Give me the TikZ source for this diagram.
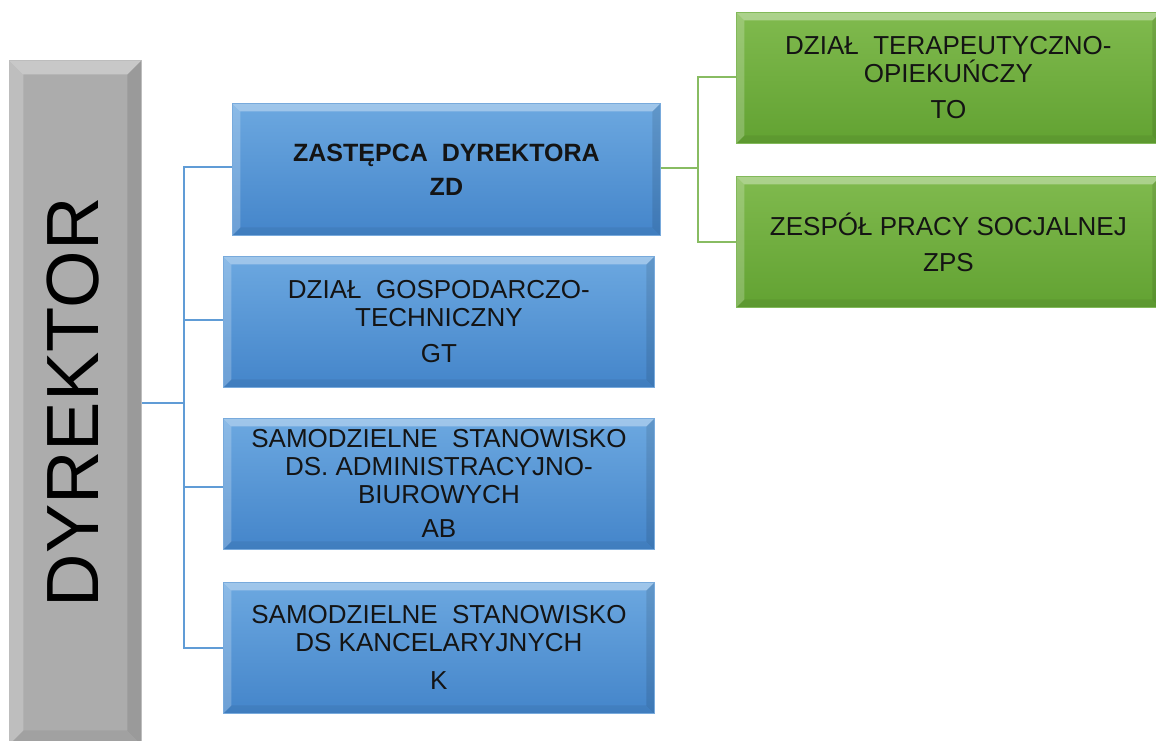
\documentclass[tikz,border=0pt]{standalone}
\usepackage{fontspec}
\setmainfont{Liberation Sans}
\definecolor{bluetop}{RGB}{108,168,224}
\definecolor{bluebot}{RGB}{68,133,202}
\definecolor{blueedge}{RGB}{120,170,220}
\definecolor{greentop}{RGB}{128,186,78}
\definecolor{greenbot}{RGB}{98,162,50}
\definecolor{greenedge}{RGB}{130,185,90}
\definecolor{graybox}{RGB}{172,172,172}
\definecolor{blueline}{RGB}{96,156,214}
\definecolor{greenline}{RGB}{136,188,98}
\definecolor{txt}{RGB}{20,20,20}
\tikzset{
  bevel/.style={path picture={
    \path (path picture bounding box.north west) coordinate (pnw)
          (path picture bounding box.north east) coordinate (pne)
          (path picture bounding box.south west) coordinate (psw)
          (path picture bounding box.south east) coordinate (pse);
    \fill[white,opacity=.35] (pnw) -- (pne) -- ([xshift=-#1,yshift=-#1]pne) -- ([xshift=#1,yshift=-#1]pnw) -- cycle;
    \fill[white,opacity=.22] (pnw) -- ([xshift=#1,yshift=-#1]pnw) -- ([xshift=#1,yshift=#1]psw) -- (psw) -- cycle;
    \fill[black,opacity=.10] (pne) -- ([xshift=-#1,yshift=-#1]pne) -- ([xshift=-#1,yshift=#1]pse) -- (pse) -- cycle;
    \fill[black,opacity=.06] (psw) -- ([xshift=#1,yshift=#1]psw) -- ([xshift=-#1,yshift=#1]pse) -- (pse) -- cycle;
  }},
  unitbox/.style={rectangle, anchor=north west, inner sep=0pt, align=center,
    text=txt, font=\fontsize{26}{28}\selectfont, bevel=8pt},
  bluebox/.style={unitbox, top color=bluetop, bottom color=bluebot, draw=blueedge, line width=0.8pt},
  greenbox/.style={unitbox, top color=greentop, bottom color=greenbot, draw=greenedge, line width=0.8pt},
  graybox/.style={rectangle, anchor=north west, inner sep=0pt, fill=graybox, draw=graybox!80!white, line width=0.8pt, bevel=14pt},
  blueconn/.style={draw=blueline, line width=2pt},
  greenconn/.style={draw=greenline, line width=2.5pt},
}
\begin{document}
\begin{tikzpicture}[x=1pt,y=-1pt]
\useasboundingbox (0,0) rectangle (1156,740);
\fill[white] (0,0) rectangle (1156,740);

% director
\node[graybox, minimum width=132pt, minimum height=684pt] (dyr) at (9,60) {};
\node[rotate=90, text=black, font=\fontsize{74}{74}\selectfont] (dyrtext) at ([xshift=-2pt]dyr.center) {DYREKTOR};

% blue boxes
\node[bluebox, minimum width=428pt, minimum height=132pt, font=\fontsize{25}{28}\selectfont] (zd) at (232,103)
  {\textbf{ZASTĘPCA\ \ DYREKTORA}\\[6pt]\textbf{ZD}};
\node[bluebox, minimum width=431pt, minimum height=131pt] (gt) at (223,256)
  {DZIAŁ\ \ GOSPODARCZO-\\TECHNICZNY\\[8pt]GT};
\node[bluebox, minimum width=431pt, minimum height=131pt] (ab) at (223,418)
  {SAMODZIELNE\ \ STANOWISKO\\DS. ADMINISTRACYJNO-\\BIUROWYCH\\[6pt]AB};
\node[bluebox, minimum width=431pt, minimum height=131pt] (k) at (223,582)
  {SAMODZIELNE\ \ STANOWISKO\\DS KANCELARYJNYCH\\[10pt]K};

% green boxes
\node[greenbox, minimum width=424pt, minimum height=131pt] (to) at (736,12)
  {DZIAŁ\ \ TERAPEUTYCZNO-\\OPIEKUŃCZY\\[8pt]TO};
\node[greenbox, minimum width=424pt, minimum height=131pt] (zps) at (736,176)
  {ZESPÓŁ PRACY SOCJALNEJ\\[8pt]ZPS};

% blue connectors
\coordinate (trunk) at (184,403);
\draw[blueconn] (dyr.east |- trunk) -- (trunk);
\draw[blueconn] (trunk) -- (184,167) -- (zd.west |- 0,167);
\draw[blueconn] (trunk) -- (184,648) -- (k.west |- 0,648);
\draw[blueconn] (184,320) -- (gt.west |- 0,320);
\draw[blueconn] (184,487) -- (ab.west |- 0,487);

% green connectors
\coordinate (gjoin) at (698,168);
\draw[greenconn] (zd.east |- gjoin) -- (gjoin);
\draw[greenconn] (to.west |- 0,77) -- (698,77) -- (698,242) -- (zps.west |- 0,242);
\end{tikzpicture}
\end{document}
